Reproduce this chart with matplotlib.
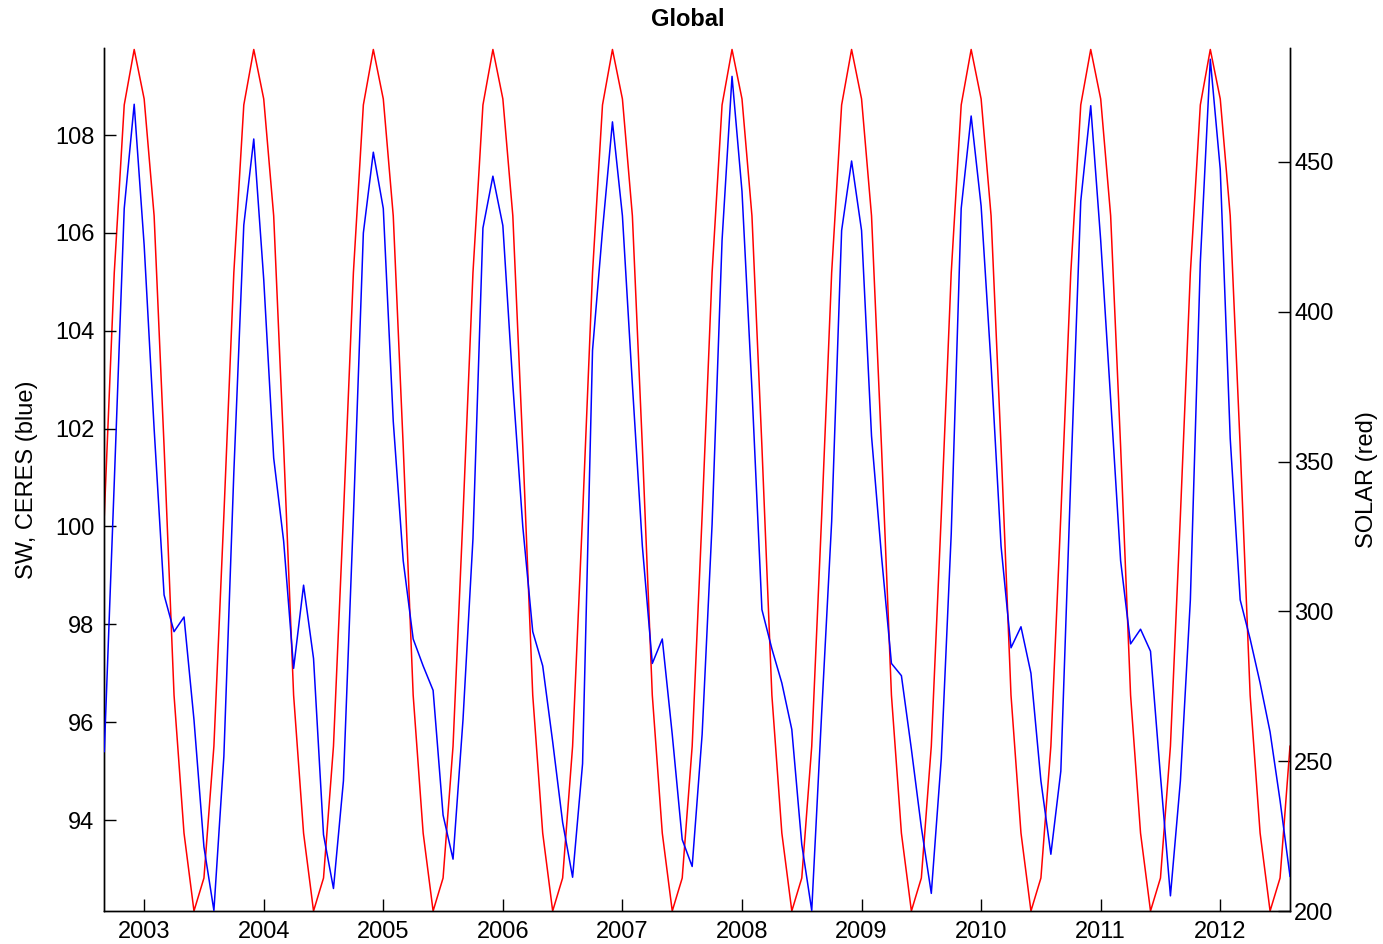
import numpy as np
import matplotlib
matplotlib.use("Agg")
import matplotlib.pyplot as plt

# --- monthly data, Sep 2002 .. Aug 2012 ---
start_year, start_month, n_months = 2002, 9, 120

# SW, CERES global (blue)
sw_ceres = [
    95.4, 100.9, 106.5, 108.63,                                                   # 2002 Sep-Dec
    105.75, 102.0, 98.6, 97.85, 98.15, 96.05, 93.45, 92.15, 95.3, 101.1, 106.16, 107.92,  # 2003
    105.05, 101.4, 99.7, 97.1, 98.8, 97.3, 93.7, 92.6, 94.8, 100.2, 106.0, 107.65,        # 2004
    106.5, 102.15, 99.3, 97.7, 97.15, 96.65, 94.1, 93.2, 96.05, 99.75, 106.1, 107.16,     # 2005
    106.15, 102.9, 100.0, 97.85, 97.15, 95.6, 93.95, 92.83, 95.15, 103.6, 106.05, 108.27, # 2006
    106.35, 102.9, 99.6, 97.2, 97.7, 95.75, 93.6, 93.05, 95.75, 100.05, 105.85, 109.2,    # 2007
    106.85, 102.8, 98.3, 97.5, 96.8, 95.85, 93.5, 92.15, 96.2, 100.1, 106.05, 107.47,     # 2008
    106.05, 101.85, 99.4, 97.2, 96.95, 95.45, 93.85, 92.5, 95.25, 99.85, 106.5, 108.39,   # 2009
    106.55, 103.3, 99.6, 97.52, 97.95, 97.0, 94.8, 93.3, 95.0, 101.0, 106.65, 108.6,      # 2010
    105.85, 102.6, 99.3, 97.6, 97.9, 97.45, 94.9, 92.45, 94.8, 98.5, 105.4, 109.55,       # 2011
    107.3, 101.8, 98.5, 97.7, 96.8, 95.8, 94.4, 92.85,                                    # 2012 Jan-Aug
]

# SOLAR (red)
solar = [
    332, 413, 469, 487.5,                                              # 2002 Sep-Dec
    471, 432, 355, 272, 226, 200, 211, 255, 332, 413, 469, 487.5,      # 2003
    471, 432, 355, 272, 226, 200, 211, 255, 332, 413, 469, 487.5,      # 2004
    471, 432, 355, 272, 226, 200, 211, 255, 332, 413, 469, 487.5,      # 2005
    471, 432, 355, 272, 226, 200, 211, 255, 332, 413, 469, 487.5,      # 2006
    471, 432, 355, 272, 226, 200, 211, 255, 332, 413, 469, 487.5,      # 2007
    471, 432, 355, 272, 226, 200, 211, 255, 332, 413, 469, 487.5,      # 2008
    471, 432, 355, 272, 226, 200, 211, 255, 332, 413, 469, 487.5,      # 2009
    471, 432, 355, 272, 226, 200, 211, 255, 332, 413, 469, 487.5,      # 2010
    471, 432, 355, 272, 226, 200, 211, 255, 332, 413, 469, 487.5,      # 2011
    471, 432, 355, 272, 226, 200, 211, 255,                            # 2012 Jan-Aug
]

year_ticks = list(range(2003, 2013))
left_ticks = [94, 96, 98, 100, 102, 104, 106, 108]
right_ticks = [200, 250, 300, 350, 400, 450]

# time axis: year + (month-1)/12
t = start_year + (start_month - 1) / 12 + np.arange(n_months) / 12

plt.rcParams["font.family"] = ["Liberation Sans", "DejaVu Sans"]
plt.rcParams["font.size"] = 17

fig = plt.figure(figsize=(13.83, 9.44), dpi=100)
ax = fig.add_axes([104.3 / 1383, 33 / 944, (1290 - 104.3) / 1383, (911 - 48) / 944])
ax2 = ax.twinx()

ax.plot(t, sw_ceres, color=(0, 0, 1), lw=1.1, zorder=3)
ax2.plot(t, solar, color=(1, 0, 0), lw=1.1)
ax.set_zorder(ax2.get_zorder() + 1)
ax.patch.set_visible(False)

ax.set_xlim(t[0], t[-1])
ax.set_ylim(92.14, 109.78)
ax2.set_ylim(200, 488)

ax.set_xticks(year_ticks)
ax.set_yticks(left_ticks)
ax2.set_yticks(right_ticks)

for a in (ax, ax2):
    a.spines["top"].set_visible(False)
    for s in a.spines.values():
        s.set_linewidth(1.0)
ax.tick_params(axis="both", direction="in", length=8.5, width=1.0, pad=7, labelsize=17)
ax.tick_params(axis="y", right=False)
ax2.tick_params(axis="y", direction="in", length=8.5, width=1.0, pad=3, labelsize=17)

ax.set_ylabel("SW, CERES (blue)", fontsize=17, labelpad=12)
ax2.set_ylabel("SOLAR (red)", fontsize=17, labelpad=16)

fig.text(688 / 1383, 1 - 20 / 944, "Global", ha="center", va="center",
         fontsize=17, fontweight="bold")

fig.savefig("out.png", dpi=100)
